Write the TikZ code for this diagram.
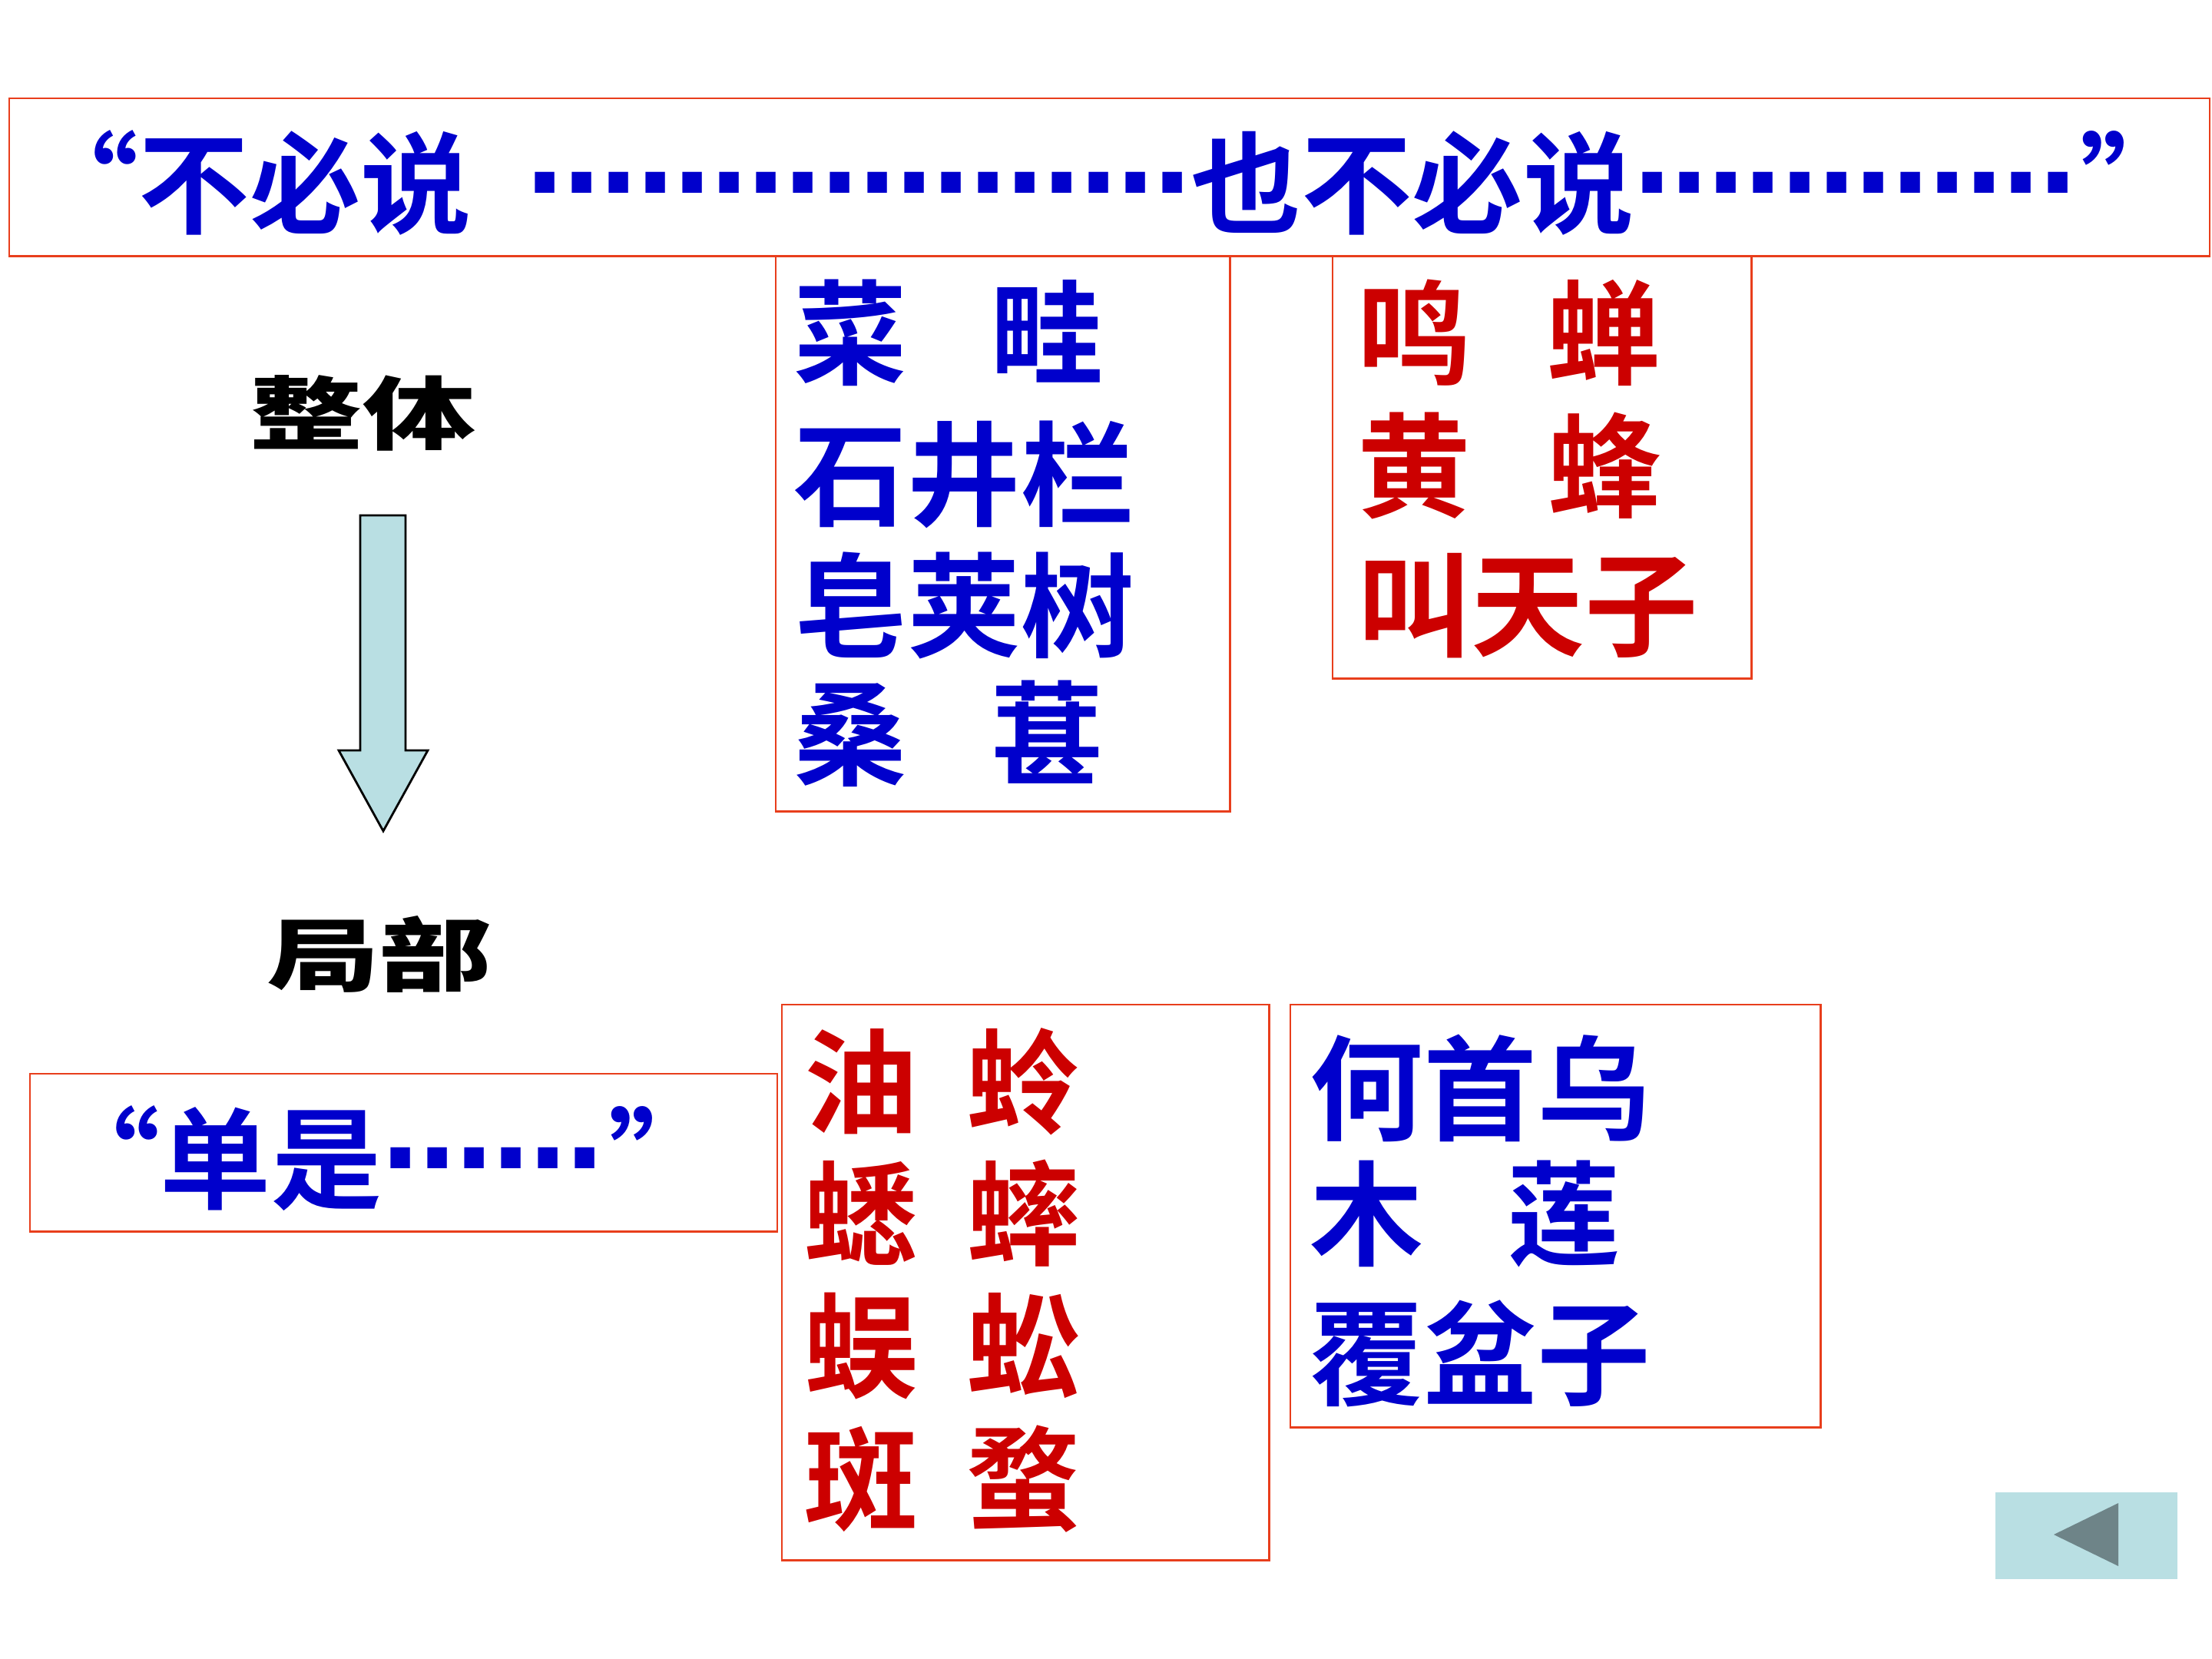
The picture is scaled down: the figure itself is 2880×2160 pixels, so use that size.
\documentclass[tikz,border=0pt]{standalone}
\usepackage{fontspec}
\newfontfamily\cjkbold{Noto Sans CJK SC Bold}
\newfontfamily\cjkblack{Noto Sans CJK SC Black}
\newfontfamily\dotfont{DejaVu Sans}
\definecolor{txtblue}{RGB}{0,0,204}
\definecolor{txtred}{RGB}{204,0,0}
\definecolor{boxred}{RGB}{232,62,28}
\definecolor{paleteal}{RGB}{185,223,227}
\definecolor{darkteal}{RGB}{110,132,136}
\newcommand\dd{{\dotfont\bfseries\raisebox{0.29em}{…}}}
\tikzset{
  frame/.style={draw=boxred, line width=0.7pt, inner sep=0pt, anchor=north west},
  bigblue/.style={text=txtblue, font=\cjkbold\fontsize{41}{49}\selectfont, inner sep=0pt, anchor=base west},
  bluetxt/.style={text=txtblue, font=\cjkbold\fontsize{42}{50}\selectfont, inner sep=0pt, anchor=base west},
  redtxt/.style={text=txtred, font=\cjkbold\fontsize{42}{50}\selectfont, inner sep=0pt, anchor=base west},
  heavy/.style={text=black, font=\cjkblack\fontsize{29.6}{34}\selectfont, inner sep=0pt}
}
\begin{document}
\begin{tikzpicture}[x=0.01cm, y=-0.01cm]
\useasboundingbox[fill=white] (0,0) rectangle (2880,2160);

% frames
\node[frame, minimum width=28.63cm, minimum height=2.05cm] (topbox) at (11,127) {};
\node[frame, minimum width=5.91cm, minimum height=7.23cm] (boxA) at (1009,332) {};
\node[frame, minimum width=5.45cm, minimum height=5.50cm] (boxB) at (1734,332) {};
\node[frame, minimum width=9.72cm, minimum height=2.05cm] (boxC) at (38,1397) {};
\node[frame, minimum width=6.34cm, minimum height=7.23cm] (boxD) at (1017,1307) {};
\node[frame, minimum width=6.90cm, minimum height=5.50cm] (boxE) at (1679,1307) {};

% title line
\node[bigblue] (title) at (36,293) {“不必说\hspace{0.5em}\dd\dd\dd\dd\dd\dd 也不必说\dd\dd\dd\dd\hspace{0.03em}”};
\node[bigblue] (dan) at (64,1563) {“单是\dd\dd\hspace{0.05em}”};

% box A (blue)
\node[bluetxt] (a1) at (1033,489) {菜\hspace{0.73em}畦};
\node[bluetxt] (a2) at (1033,673) {石井栏};
\node[bluetxt] (a3) at (1033,844) {皂荚树};
\node[bluetxt] (a4) at (1033,1011) {桑\hspace{0.73em}葚};

% box B (red)
\node[redtxt] (b1) at (1767,489) {鸣\hspace{0.67em}蝉};
\node[redtxt] (b2) at (1767,662) {黄\hspace{0.68em}蜂};
\node[redtxt] (b3) at (1767,843) {叫天子};

% box D (red)
\node[redtxt] (d1) at (1047,1464) {油\hspace{0.43em}蛉};
\node[redtxt] (d2) at (1047,1636) {蟋\hspace{0.43em}蟀};
\node[redtxt] (d3) at (1047,1808) {蜈\hspace{0.43em}蚣};
\node[redtxt] (d4) at (1047,1981) {斑\hspace{0.43em}蝥};

% box E (blue)
\node[bluetxt] (e1) at (1705,1473) {何首乌};
\node[bluetxt] (e2) at (1705,1636) {木\hspace{0.74em}莲};
\node[bluetxt] (e3) at (1705,1818) {覆盆子};

% whole -> part
\node[heavy] (whole) at (472,538) {\scalebox{1.41}[1]{整体}};
\node[heavy] (part) at (494,1242) {\scalebox{1.41}[1]{局部}};
\draw[fill=paleteal, draw=black, line width=0.8pt]
  (469,671) -- (528,671) -- (528,977) -- (557,977) -- (499,1082) -- (441,977) -- (469,977) -- cycle;

% back button
\node[fill=paleteal, inner sep=0pt, minimum width=2.37cm, minimum height=1.13cm, anchor=north west] (back) at (2597,1942) {};
\fill[darkteal] (2674,1998) -- (2758,1957) -- (2758,2039) -- cycle;
\end{tikzpicture}
\end{document}
